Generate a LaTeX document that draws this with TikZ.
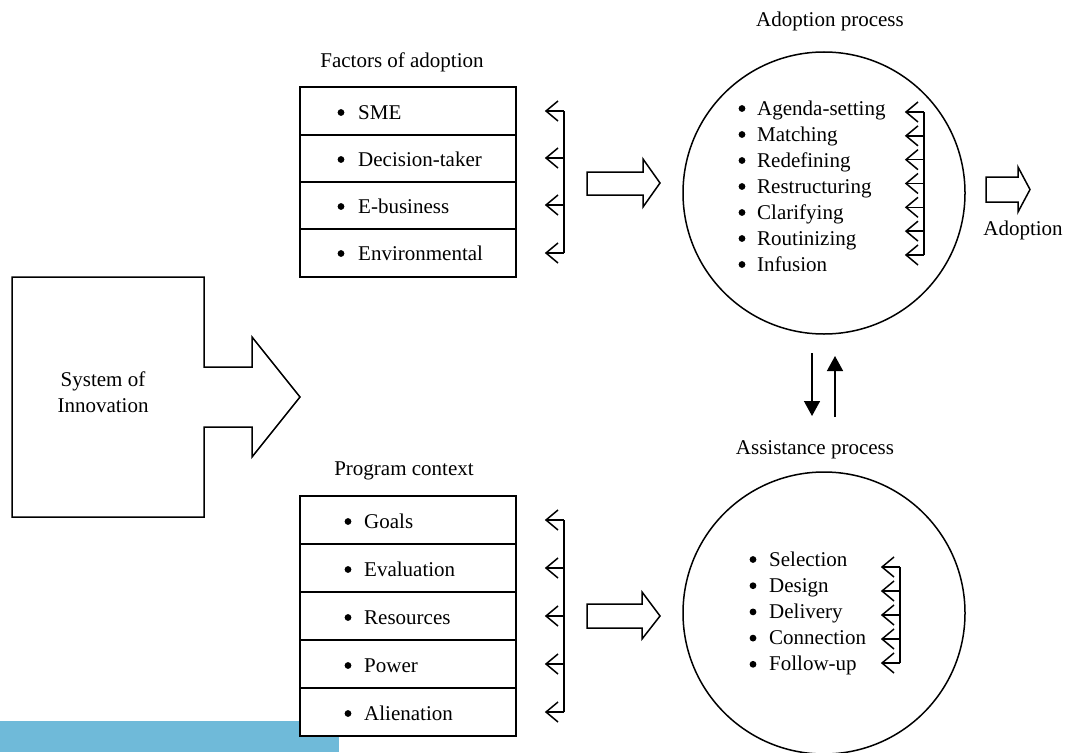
\documentclass[tikz,border=0pt]{standalone}
\usepackage{fontspec}
\setmainfont{Liberation Serif}
\usetikzlibrary{arrows.meta}
\definecolor{barblue}{HTML}{6FBAD9}
\begin{document}
\begin{tikzpicture}[x=1pt,y=-1pt,
  every node/.style={font=\fontsize{21}{26}\selectfont, inner sep=0pt},
  ln/.style={line width=1.5pt, line join=miter},
  item/.style={anchor=base west},
  title/.style={anchor=base},
  solidarr/.style={line width=1.5pt, -{Triangle[length=15pt,width=16pt]}},
  hollow/.style={line width=1.5pt, line join=miter, fill=white},
  barbhead/.style={line width=1.5pt, line join=miter}
]
\useasboundingbox (0,0) rectangle (1067,752);
% blue bar
\fill[barblue] (0,721) rectangle (339,752);

% System of Innovation
\draw[ln] (12,277) -- (204,277) -- (204,367) -- (252,367) -- (252,337) -- (300,397)
  -- (252,457) -- (252,427) -- (204,427) -- (204,517) -- (12,517) -- cycle;
\node[align=center] (soi) at (103,392) {System of\\Innovation};

% Factors of adoption
\node[title] (ftitle) at (402,67) {Factors of adoption};
\draw[ln, fill=white] (300,87) rectangle (516,277);
\foreach \y in {135,182,229} \draw[ln] (300,\y) -- (516,\y);
\foreach \t/\y [count=\i] in {SME/119, Decision-taker/166, E-business/213, Environmental/260}{
  \fill (341,\y-6.5) circle (3.4pt);
  \node[item] (f\i) at (358,\y) {\t};
}
\coordinate (fv1) at (564,111);
\coordinate (fv4) at (564,253);
\draw[ln] (fv1) -- (fv4);
\foreach \y [count=\i] in {111,158,205,253}{
  \coordinate (fs\i) at (564,\y);
  \coordinate (ft\i) at (546,\y);
  \draw[ln] (fs\i) -- (ft\i);
  \draw[barbhead] ([shift={(12,-10)}]ft\i) -- (ft\i) -- ([shift={(12,10)}]ft\i);
}
\draw[hollow] (587,172) -- (643,172) -- (643,159) -- (660,183) -- (643,207) -- (643,195) -- (587,195) -- cycle;

% Program context
\node[title] (ptitle) at (404,475) {Program context};
\draw[ln, fill=white] (300,496) rectangle (516,736);
\foreach \y in {544,592,640,688} \draw[ln] (300,\y) -- (516,\y);
\foreach \t/\y [count=\i] in {Goals/528, Evaluation/576, Resources/624, Power/672, Alienation/720}{
  \fill (348,\y-6.5) circle (3.4pt);
  \node[item] (p\i) at (364,\y) {\t};
}
\coordinate (pv1) at (564,520);
\coordinate (pv5) at (564,712);
\draw[ln] (pv1) -- (pv5);
\foreach \y [count=\i] in {520,568,616,664,712}{
  \coordinate (ps\i) at (564,\y);
  \coordinate (pt\i) at (546,\y);
  \draw[ln] (ps\i) -- (pt\i);
  \draw[barbhead] ([shift={(12,-10)}]pt\i) -- (pt\i) -- ([shift={(12,10)}]pt\i);
}
\draw[hollow] (587,604) -- (642,604) -- (642,592) -- (660,616) -- (642,639) -- (642,628) -- (587,628) -- cycle;

% Adoption process
\node[title] (atitle) at (830,27) {Adoption process};
\node[draw, circle, line width=1.5pt, minimum size=282pt] (acirc) at (824,193) {};
\foreach \t [count=\i] in {Agenda-setting, Matching, Redefining, Restructuring, Clarifying, Routinizing, Infusion}{
  \pgfmathsetmacro{\yy}{115+26*(\i-1)}
  \fill (742,\yy-6.5) circle (3.4pt);
  \node[item] (a\i) at (757,\yy) {\t};
}
\coordinate (av1) at (924,112);
\coordinate (av7) at (924,255);
\draw[ln] (av1) -- (av7);
\foreach \i in {1,...,7}{
  \pgfmathsetmacro{\yy}{112+23.83*(\i-1)}
  \coordinate (as\i) at (924,\yy);
  \coordinate (at\i) at (906,\yy);
  \draw[ln] (as\i) -- (at\i);
  \draw[barbhead] ([shift={(12,-10)}]at\i) -- (at\i) -- ([shift={(12,10)}]at\i);
}
\draw[hollow] (986,177) -- (1018,177) -- (1018,167) -- (1030,189.5) -- (1018,212) -- (1018,202) -- (986,202) -- cycle;
\node[anchor=base] (adopt) at (1023,235) {Adoption};

% vertical arrows
\coordinate (d1) at (812,353);
\coordinate (d2) at (812,416);
\coordinate (u1) at (835,417);
\coordinate (u2) at (835,356);
\draw[solidarr] (d1) -- (d2);
\draw[solidarr] (u1) -- (u2);

% Assistance process
\node[title] (stitle) at (815,454) {Assistance process};
\node[draw, circle, line width=1.5pt, minimum size=282pt] (scirc) at (824,613) {};
\foreach \t [count=\i] in {Selection, Design, Delivery, Connection, Follow-up}{
  \pgfmathsetmacro{\yy}{566+26.2*(\i-1)}
  \fill (753,\yy-6.5) circle (3.4pt);
  \node[item] (s\i) at (769,\yy) {\t};
}
\coordinate (sv1) at (900,567);
\coordinate (sv5) at (900,663);
\draw[ln] (sv1) -- (sv5);
\foreach \i in {1,...,5}{
  \pgfmathsetmacro{\yy}{567+24*(\i-1)}
  \coordinate (ss\i) at (900,\yy);
  \coordinate (st\i) at (882,\yy);
  \draw[ln] (ss\i) -- (st\i);
  \draw[barbhead] ([shift={(12,-10)}]st\i) -- (st\i) -- ([shift={(12,10)}]st\i);
}
\end{tikzpicture}
\end{document}
